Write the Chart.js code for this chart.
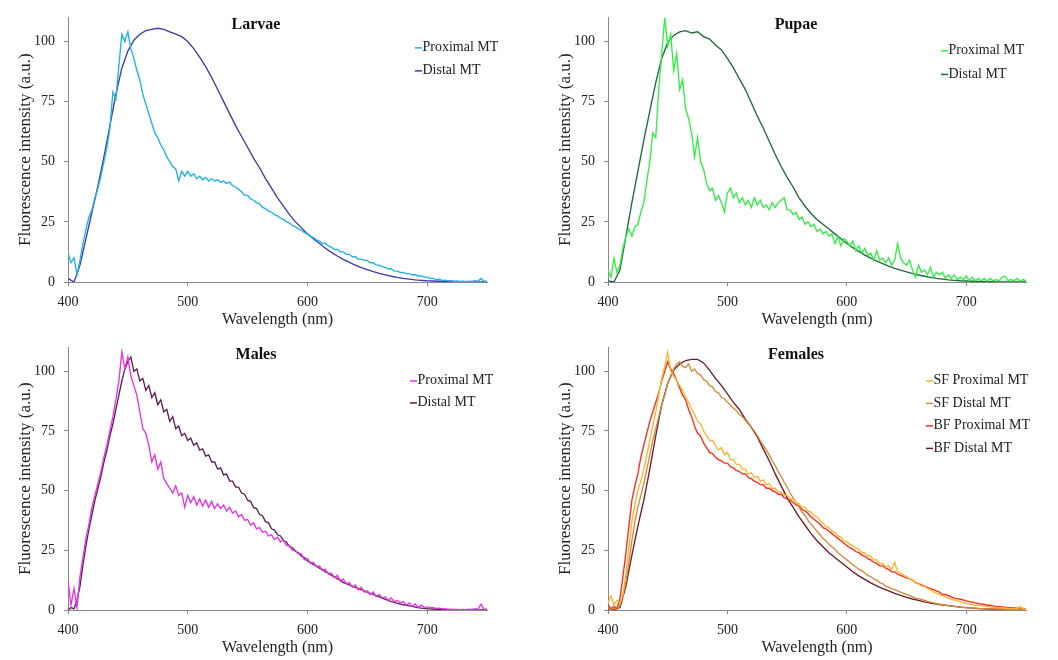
<!DOCTYPE html>
<html>
<head>
<meta charset="utf-8">
<script src="https://cdn.jsdelivr.net/npm/chart.js@4.4.0/dist/chart.umd.min.js"></script>
<style>
  body { margin: 0; background: #fff; }
  .wrap { position: relative; width: 1058px; height: 660px; }
  canvas { position: absolute; }
</style>
</head>
<body>
<div class="wrap">
  <canvas id="larvae" width="529" height="330" style="left:0;top:0"></canvas>
  <canvas id="pupae" width="518" height="330" style="left:540px;top:0"></canvas>
  <canvas id="males" width="529" height="330" style="left:0;top:330px"></canvas>
  <canvas id="females" width="518" height="330" style="left:540px;top:330px"></canvas>
</div>
<script>
// wavelength grids (nm): 2.5 nm for the noisy traces, 5 nm for the smooth ones
var wlFine = [];
for (var w = 400; w <= 750; w += 2.5) wlFine.push(w);
var wlCoarse = [];
for (var w2 = 400; w2 <= 750; w2 += 5) wlCoarse.push(w2);

var xTicks = [400, 500, 600, 700];
var yTicks = [0, 25, 50, 75, 100];

// LARVAE
var larvaeProx = [
  12, 8, 10, 3, 9, 16, 22, 27, 30, 35,
  39, 44, 50, 56, 64, 79, 76, 90, 103, 100,
  104, 97, 93, 88, 84, 78, 74, 70, 66, 62,
  60, 57, 55, 52, 50, 48, 47, 42, 46, 44,
  46, 44, 45, 43, 44, 42.5, 43.5, 42, 43, 42,
  42.5, 41.5, 42, 41, 41.5, 40, 39.5, 38.5, 37.5, 36,
  36, 34.5, 34, 33, 32.5, 31, 30.5, 29.5, 29, 28,
  27.5, 26.5, 26, 25, 24.5, 23.5, 23, 22, 21.5, 20.5,
  20, 19, 18.5, 17.5, 17, 16, 16, 15, 14.5, 13.5,
  13.5, 12.5, 12.5, 11.5, 11.5, 10.5, 10.5, 9.5, 9.5, 9,
  9, 8, 8, 7, 7, 6.5, 6, 5.5, 5.5, 4.5,
  4.5, 4, 4, 3.5, 3.5, 3, 3, 2.5, 2.5, 2,
  2, 1.5, 1.5, 1, 1.2, 0.7, 0.8, 0.5, 0.6, 0.3,
  0.4, 0.2, 0.3, 0.1, 0.3, 0.2, 0.5, 0.3, 1.5, 0.3,
  0.3
];
var larvaeDist = [
  1.5, 0, 7, 18, 29, 40, 52, 65, 78, 89,
  96, 100.5, 103, 104.5, 105, 105.5, 105, 104, 103, 102,
  100, 97, 93.5, 89.5, 85, 80, 75, 70, 65, 60.5,
  56, 51.5, 47.5, 43, 39, 35, 31.5, 28, 25, 22.5,
  20, 18, 16, 14, 12.3, 10.8, 9.4, 8.2, 7, 6,
  5.1, 4.3, 3.6, 3, 2.4, 1.9, 1.5, 1.2, 0.9, 0.7,
  0.5, 0.4, 0.3, 0.2, 0.1, 0.1, 0.1, 0, 0, 0,
  0
];

// PUPAE
var pupaeProx = [
  5, 2, 10, 4, 7, 14, 19, 22, 19, 23,
  24, 29, 33, 42, 50, 62, 60, 80, 95, 110,
  98, 103, 88, 95, 80, 84, 72, 68, 62, 52,
  60, 50, 47, 41, 38, 39, 34, 36, 33, 29,
  37, 39, 35, 37, 33, 35, 32, 34, 31, 35,
  32, 34, 31, 32, 30, 33, 31, 33, 34, 35,
  30, 30, 28, 29, 26, 27, 24, 25, 23, 24,
  21, 22, 20, 21, 19, 20, 16, 19, 15, 18,
  17, 15, 17, 13, 15, 12, 14, 11, 12, 9,
  13, 9, 10, 8, 10, 7, 9, 16, 10, 8,
  7, 9, 5, 2, 7, 4, 5, 3, 6, 2,
  4, 3, 4, 1.5, 3, 1.5, 3, 1, 2, 1,
  2.5, 0.5, 2, 0.5, 1.5, 0.5, 1.5, 0.3, 1.5, 0.5,
  1, 0.5, 2, 2.5, 0.5, 1, 0.5, 1.5, 0.3, 1,
  0.5
];
var pupaeDist = [
  0.5, 0, 5, 19, 33, 46, 59, 71, 83, 93,
  99.5, 102.5, 104, 104.5, 103.5, 104, 102, 101, 98.5, 96.5,
  93, 89, 84.5, 80, 74.5, 69, 64, 58.5, 53, 48,
  43.5, 39.5, 35, 31.5, 28.5, 26, 24, 22, 20, 18,
  16, 14.3, 12.7, 11.2, 9.9, 8.7, 7.6, 6.6, 5.7, 4.9,
  4.2, 3.5, 2.9, 2.4, 1.9, 1.5, 1.2, 0.9, 0.7, 0.5,
  0.4, 0.3, 0.2, 0.1, 0.1, 0, 0, 0, 0, 0,
  0
];

// MALES
var malesProx = [
  12, 2, 9, 1, 14, 22, 30, 36, 43, 48,
  53, 58, 64, 69, 75, 81, 88, 96, 108, 101,
  106, 98, 94, 90, 83, 76, 74, 69, 62, 65,
  59, 62, 55, 53, 51, 49, 52, 48, 49, 43,
  48, 45, 47.5, 44, 46.5, 43.5, 46, 43, 45.5, 42.5,
  44.5, 42.5, 44, 41.5, 43, 40.5, 41.5, 39, 40, 37.5,
  38, 35.5, 36.5, 34, 34.5, 32.5, 33, 31, 31.5, 29.5,
  30.5, 28.5, 29.5, 27, 27, 25, 25, 23.5, 23.5, 21,
  21.5, 19.5, 20, 18, 18.5, 16.5, 17, 15, 15.5, 13.5,
  14.5, 12, 13, 11, 11.5, 9.5, 10.5, 8.5, 9.5, 7.5,
  8, 6.5, 7.5, 5.5, 6.5, 5, 5.5, 4, 5, 3.5,
  4, 3, 3.5, 2, 3, 1.5, 2.5, 1, 2, 1,
  1.3, 1, 1, 0.7, 0.8, 0.5, 0.5, 0.3, 0.3, 0.2,
  0.2, 0.1, 0.2, 0.1, 0.3, 0.2, 0.5, 0.3, 2.5, 0.3,
  0.5
];
var malesDist = [
  0, 1, 0.5, 4, 10, 19, 27, 34, 40, 46,
  51, 56, 62, 67, 73, 78, 84, 90, 96, 101,
  104, 106, 100, 101, 96, 97, 92, 94, 89, 91,
  86, 88, 83, 84, 79, 81, 76, 77, 73, 74,
  71, 72, 69, 70, 67, 67.5, 64.5, 65, 62, 62,
  59, 59.5, 56.5, 57, 54, 54, 51.5, 51.5, 49, 48.5,
  46, 45.5, 43, 42.5, 40, 39.5, 37, 36.5, 34, 33.5,
  31.5, 31, 29, 28.5, 26.5, 26, 24.5, 24, 22.5, 22,
  20.5, 20, 19, 18.5, 17.5, 17, 16, 15.5, 14.5, 14,
  13, 12.5, 11.5, 11, 10.5, 10, 9.5, 9, 8.5, 8,
  7.5, 7, 6.5, 6, 5.5, 5, 4.5, 4, 3.5, 3.2,
  2.8, 2.5, 2.2, 2, 1.7, 1.5, 1.2, 1, 0.8, 0.7,
  0.5, 0.5, 0.4, 0.3, 0.3, 0.2, 0.2, 0.1, 0.1, 0.1,
  0, 0, 0, 0, 0, 0, 0, 0, 0, 0,
  0
];

// FEMALES
var sfProx = [
  3, 6, 2, 4, 3, 6, 15, 26, 37, 44,
  50, 54, 59, 65, 71, 77, 83, 90, 97, 102,
  108, 100, 98, 96, 94, 92, 89, 87, 84, 82,
  79, 78, 75, 73, 71, 71, 69, 67, 68, 65,
  66, 63, 63, 61, 61, 59, 59, 57, 57.5, 55.5,
  56, 54, 54.5, 52.5, 53, 51, 51, 49.5, 49.5, 48,
  48, 46.5, 46.5, 45, 44.5, 43, 43, 41.5, 41, 39.5,
  39, 37.5, 36.5, 35, 34.5, 33, 32.5, 31, 30.5, 29,
  28.5, 27.5, 27, 26, 25.5, 24, 24, 22.5, 22.5, 21,
  21, 19.5, 19.5, 18, 18.5, 17, 20, 16, 15.5, 14.5,
  14, 13, 12.5, 11.5, 11, 10, 10, 9, 8.5, 7.5,
  7, 6.5, 6, 5.5, 5, 4.5, 4.2, 3.8, 3.5, 3,
  2.8, 2.5, 2.3, 2, 2, 1.7, 1.6, 1.4, 1.3, 1.1,
  1, 0.9, 0.9, 0.8, 0.7, 0.7, 0.6, 0.5, 1.5, 0.5,
  0.4
];
var sfDist = [
  1, 0, 1, 0, 2, 7, 12, 20, 29, 37,
  43, 48, 53, 59, 65, 71, 76, 81, 86, 90,
  95, 98, 101, 103, 104, 102, 101.5, 103, 100, 101,
  99, 98.5, 96.5, 96, 94, 93.5, 91.5, 91, 89, 88.5,
  87, 86, 84.5, 83.5, 82, 81, 79.5, 78, 76.5, 75,
  73, 71, 69, 67, 65, 62.5, 60.5, 58, 56, 53.5,
  51.5, 49, 47, 45, 43, 41, 39.5, 37.5, 36, 34.5,
  33, 31.5, 30, 29, 27.5, 26.5, 25.5, 24, 23, 22,
  21, 20, 19, 18, 17, 16.5, 15.5, 14.5, 14, 13,
  12.5, 11.5, 11, 10, 9.5, 9, 8.5, 8, 7.5, 7,
  6.5, 6, 5.5, 5, 4.8, 4.4, 4, 3.6, 3.3, 3,
  2.7, 2.4, 2.2, 2, 1.8, 1.6, 1.5, 1.3, 1.2, 1,
  1, 0.9, 0.8, 0.8, 0.7, 0.6, 0.6, 0.5, 0.5, 0.5,
  0.4, 0.4, 0.4, 0.3, 0.3, 0.3, 0.3, 0.3, 0.3, 0.3,
  0.3
];
var bfProx = [
  2, 0.5, 1.5, 0.5, 5, 14, 24, 35, 46, 52,
  57, 64, 69, 74, 79, 83, 87, 91, 96, 100,
  104, 101, 99, 96, 93, 90, 88, 84, 81, 77,
  74, 73, 70, 68, 66, 65.5, 64, 63, 62.5, 61.5,
  61.5, 60, 59.5, 58.5, 58, 57, 57, 55.5, 55, 54,
  53.5, 52.5, 52.5, 51, 51, 50, 49.5, 48.5, 48.5, 47,
  46.5, 46, 45, 44, 43.5, 42, 41.5, 40.5, 39, 38,
  37, 36, 34.5, 34, 33, 32, 31, 30, 29, 28,
  27, 26, 25.5, 24.5, 24, 23, 22.5, 21.5, 21, 20,
  19.5, 18.5, 18.5, 17.5, 17, 16, 16, 15, 14.5, 14,
  13.5, 13, 12.5, 11.5, 11, 10.5, 10, 9.5, 9, 8.5,
  8, 7.5, 6.5, 6.5, 6, 5.5, 5, 4.8, 4.5, 4.2,
  3.8, 3.5, 3.3, 3, 2.8, 2.5, 2.3, 2, 2, 1.7,
  1.5, 1.4, 1.3, 1.2, 1, 1, 0.9, 0.8, 0.8, 0.7,
  0.6
];
var bfDist = [
  0.5, 0, 1, 10, 23, 35, 46, 59, 73, 86,
  95, 100.5, 103, 104.5, 105, 105, 103.5, 100.5, 97, 94,
  90.5, 87, 84, 80, 76.5, 72.5, 67.5, 62.5, 57, 52,
  47, 43, 39, 35.5, 32, 29, 26.5, 24, 22, 20,
  18, 16, 14.3, 12.8, 11.4, 10.1, 9, 8, 7, 6.1,
  5.3, 4.6, 4, 3.4, 2.9, 2.5, 2.1, 1.8, 1.5, 1.2,
  1, 0.8, 0.6, 0.5, 0.4, 0.3, 0.3, 0.2, 0.2, 0.1,
  0.1
];

Chart.defaults.font.family = '"Liberation Serif", "Times New Roman", serif';
Chart.defaults.color = '#222';

function pts(xs, ys) {
  return xs.map(function (x, i) { return { x: x, y: ys[i] }; });
}

// panel title + small line legend drawn inside the plot area
var decor = {
  id: 'decor',
  afterDatasetsDraw: function (chart, args, o) {
    var ctx = chart.ctx, a = chart.chartArea;
    ctx.save();
    ctx.fillStyle = '#111';
    ctx.textBaseline = 'middle';
    ctx.textAlign = 'center';
    ctx.font = 'bold 16px "Liberation Serif"';
    ctx.fillText(o.title, a.left + o.tx, a.top + o.ty);
    ctx.textAlign = 'left';
    ctx.font = '14px "Liberation Serif"';
    chart.data.datasets.forEach(function (ds, i) {
      var x = a.left + o.lx, y = a.top + o.ly + i * o.gap;
      ctx.strokeStyle = ds.borderColor;
      ctx.lineWidth = 1.5;
      ctx.beginPath();
      ctx.moveTo(x, y + 0.5);
      ctx.lineTo(x + 7, y + 0.5);
      ctx.stroke();
      ctx.fillStyle = '#222';
      ctx.fillText(ds.label, x + 7.5, y);
    });
    ctx.restore();
  }
};

function panel(id, sets, lay, dec) {
  new Chart(document.getElementById(id), {
    type: 'line',
    data: {
      datasets: sets.map(function (s) {
        return { label: s[0], data: pts(s[1], s[2]), borderColor: s[3], borderWidth: 1.35,
                 pointRadius: 0, tension: 0, fill: false };
      })
    },
    options: {
      responsive: false,
      animation: false,
      devicePixelRatio: 1,
      layout: { padding: { left: 0, right: lay.right, top: lay.top, bottom: 0 } },
      plugins: { legend: { display: false }, tooltip: { enabled: false }, decor: dec },
      scales: {
        x: {
          type: 'linear', min: 400, max: 750,
          afterBuildTicks: function (s) { s.ticks = xTicks.map(function (v) { return { value: v }; }); },
          ticks: { padding: 8, font: { size: 14 }, color: '#222', maxRotation: 0 },
          grid: { drawOnChartArea: false, tickLength: 4, color: '#888' },
          border: { color: '#888' },
          title: { display: true, text: 'Wavelength (nm)', font: { size: 16 }, color: '#222',
                   padding: { top: 0, bottom: lay.xtp } },
          afterFit: function (s) { s.height = lay.xh; }
        },
        y: {
          min: 0, max: 110,
          afterBuildTicks: function (s) { s.ticks = yTicks.map(function (v) { return { value: v }; }); },
          ticks: { padding: 9, font: { size: 14 }, color: '#222' },
          grid: { drawOnChartArea: false, tickLength: 4, color: '#888' },
          border: { color: '#888' },
          title: { display: true, text: 'Fluorescence intensity (a.u.)', font: { size: 17 }, color: '#222',
                   padding: { top: 15, bottom: 0 } },
          afterFit: function (s) { s.width = 68; }
        }
      }
    },
    plugins: [decor]
  });
}

panel('larvae', [
  ['Proximal MT', wlFine, larvaeProx, '#1db3e6'],
  ['Distal MT', wlCoarse, larvaeDist, '#3d3aae']
], { right: 42, top: 13, xh: 48, xtp: 1 }, { title: 'Larvae', tx: 188, ty: 7, lx: 347, ly: 30, gap: 23 });

panel('pupae', [
  ['Proximal MT', wlFine, pupaeProx, '#33ee44'],
  ['Distal MT', wlCoarse, pupaeDist, '#1e6b3a']
], { right: 32, top: 13, xh: 48, xtp: 1 }, { title: 'Pupae', tx: 188, ty: 7, lx: 333, ly: 33, gap: 23.5 });

panel('males', [
  ['Proximal MT', wlFine, malesProx, '#e633e6'],
  ['Distal MT', wlFine, malesDist, '#5c1e4e']
], { right: 42, top: 11, xh: 50, xtp: 3 }, { title: 'Males', tx: 188, ty: 7, lx: 342, ly: 33, gap: 22 });

panel('females', [
  ['SF Proximal MT', wlFine, sfProx, '#ffb52e'],
  ['SF Distal MT', wlFine, sfDist, '#d68a3c'],
  ['BF Proximal MT', wlFine, bfProx, '#ff2a1a'],
  ['BF Distal MT', wlCoarse, bfDist, '#6e1c28']
], { right: 32, top: 11, xh: 50, xtp: 3 }, { title: 'Females', tx: 188, ty: 7, lx: 318, ly: 33, gap: 22.5 });
</script>
</body>
</html>
